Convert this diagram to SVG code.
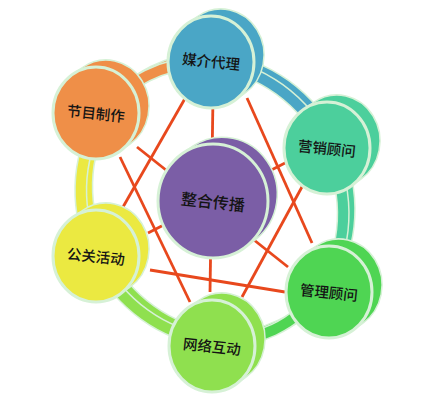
<svg xmlns="http://www.w3.org/2000/svg" xmlns:xlink="http://www.w3.org/1999/xlink" width="438" height="405" viewBox="0 0 438 405">
<style>
.rp{stroke:#d6f1d6;stroke-width:13}
.line{stroke:#e8481d;stroke-width:2.8;fill:none}
.side{fill:currentColor;stroke:#d6f1d6;stroke-width:1.5}
.face{fill:currentColor;stroke:#d6f1d6;stroke-width:3}
.lbl{font-family:"Noto Sans CJK SC","Noto Sans",sans-serif;font-size:14.5px;font-weight:500;fill:#141414;text-anchor:middle}
.big{font-size:16px}
</style>
<defs>
<path id="side" d="M23.6 38.5 L33.6 31.5 A43 46 0 0 0 -13.6 -45.5 L-23.6 -38.5 A43 46 0 0 0 23.6 38.5 Z"/>
<ellipse id="face" cx="0" cy="0" rx="43" ry="46"/>
<path id="side2" d="M31.6 46.6 L42.6 38.6 A55 57 0 0 0 -20.6 -54.6 L-31.6 -46.6 A55 57 0 0 0 31.6 46.6 Z"/>
<ellipse id="face2" cx="0" cy="0" rx="55" ry="57"/>
<path id="s1" fill="none" d="M100.1 119.5 A128 142 -28 0 1 210.8 63.4"/>
<path id="s2" fill="none" d="M210.8 63.4 A128 142 -28 0 1 328.3 148.5"/>
<path id="s3" fill="none" d="M328.3 148.5 A128 142 -28 0 1 321.5 288.3"/>
<path id="s4" fill="none" d="M321.5 288.3 A128 142 -28 0 1 210.9 340.4"/>
<path id="s5" fill="none" d="M210.9 340.4 A128 142 -28 0 1 96.7 257.7"/>
<path id="s6" fill="none" d="M96.7 257.7 A128 142 -28 0 1 100.1 119.5"/>
</defs>
<rect width="438" height="405" fill="#ffffff"/>
<g id="connectors">
<g id="ring-back" transform="translate(6,-4)">
<use xlink:href="#s1" class="rp"/><use xlink:href="#s1" stroke="#ef8f48" stroke-width="10"/>
<use xlink:href="#s2" class="rp"/><use xlink:href="#s2" stroke="#4aa6c6" stroke-width="10"/>
<use xlink:href="#s3" class="rp"/><use xlink:href="#s3" stroke="#4ccf9c" stroke-width="10"/>
<use xlink:href="#s4" class="rp"/><use xlink:href="#s4" stroke="#4fd553" stroke-width="10"/>
<use xlink:href="#s5" class="rp"/><use xlink:href="#s5" stroke="#8fe04f" stroke-width="10"/>
<use xlink:href="#s6" class="rp"/><use xlink:href="#s6" stroke="#ebe941" stroke-width="10"/>
</g>
<g id="ring-front">
<use xlink:href="#s1" class="rp"/><use xlink:href="#s1" stroke="#ef8f48" stroke-width="10"/>
<use xlink:href="#s2" class="rp"/><use xlink:href="#s2" stroke="#4aa6c6" stroke-width="10"/>
<use xlink:href="#s3" class="rp"/><use xlink:href="#s3" stroke="#4ccf9c" stroke-width="10"/>
<use xlink:href="#s4" class="rp"/><use xlink:href="#s4" stroke="#4fd553" stroke-width="10"/>
<use xlink:href="#s5" class="rp"/><use xlink:href="#s5" stroke="#8fe04f" stroke-width="10"/>
<use xlink:href="#s6" class="rp"/><use xlink:href="#s6" stroke="#ebe941" stroke-width="10"/>
</g>
<g id="lines">
<line class="line" x1="187" y1="95" x2="123" y2="207"/>
<line class="line" x1="247" y1="98" x2="312" y2="243"/>
<line class="line" x1="213" y1="97" x2="210" y2="292"/>
<line class="line" x1="120" y1="157" x2="190" y2="302"/>
<line class="line" x1="303" y1="185" x2="242" y2="297"/>
<line class="line" x1="150" y1="270" x2="285" y2="292"/>
<line class="line" x1="137" y1="147" x2="288" y2="267"/>
<line class="line" x1="148" y1="233" x2="287" y2="162"/>
</g>
</g>
<g id="node-meijie" transform="translate(211,62)" style="color:#4aa6c6">
<use xlink:href="#side" class="side"/><use xlink:href="#face" class="face"/>
<text class="lbl" transform="rotate(6)" y="5">媒介代理</text>
</g>
<g id="node-jiemu" transform="translate(96,113)" style="color:#ef8f48">
<use xlink:href="#side" class="side"/><use xlink:href="#face" class="face"/>
<text class="lbl" transform="rotate(6)" y="6">节目制作</text>
</g>
<g id="node-yingxiao" transform="translate(327,148)" style="color:#4ccf9c">
<use xlink:href="#side" class="side"/><use xlink:href="#face" class="face"/>
<text class="lbl" transform="rotate(6)" y="6">营销顾问</text>
</g>
<g id="node-guanli" transform="translate(329,292)" style="color:#4fd553">
<use xlink:href="#side" class="side"/><use xlink:href="#face" class="face"/>
<text class="lbl" transform="rotate(6)" y="6">管理顾问</text>
</g>
<g id="node-wangluo" transform="translate(212,346)" style="color:#8fe04f">
<use xlink:href="#side" class="side"/><use xlink:href="#face" class="face"/>
<text class="lbl" transform="rotate(6)" y="6">网络互动</text>
</g>
<g id="node-gongguan" transform="translate(96,256)" style="color:#ebe941">
<use xlink:href="#side" class="side"/><use xlink:href="#face" class="face"/>
<text class="lbl" transform="rotate(6)" y="6">公关活动</text>
</g>
<g id="node-zhenghe" transform="translate(213,201)" style="color:#7b5ea6">
<use xlink:href="#side2" class="side"/><use xlink:href="#face2" class="face"/>
<text class="lbl big" transform="rotate(6)" y="7">整合传播</text>
</g>
</svg>
